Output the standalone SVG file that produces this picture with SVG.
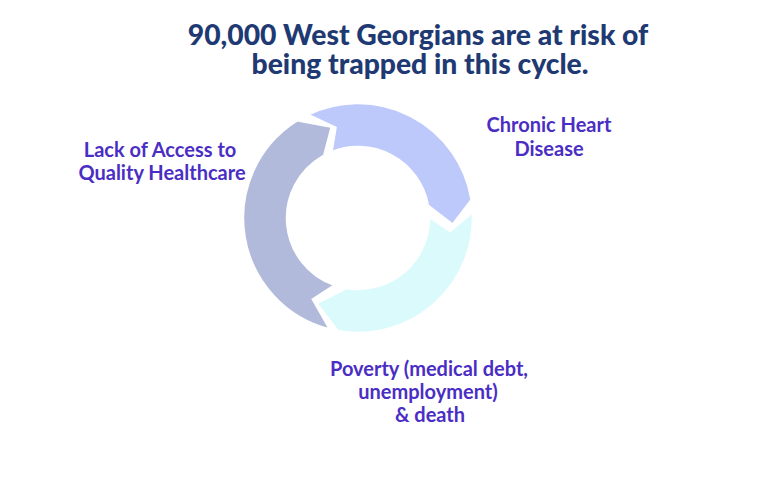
<svg xmlns="http://www.w3.org/2000/svg" width="758" height="481" viewBox="0 0 758 481">
<style>
.title{font-family:Lato,"Liberation Sans",sans-serif;font-weight:900;font-size:28.3px;fill:#1f3a73;text-anchor:middle}
.lbl{font-family:Lato,"Liberation Sans",sans-serif;font-weight:700;font-size:20px;fill:#4a2ec4;text-anchor:middle}
.arr{stroke:#ffffff;stroke-width:2.5;stroke-linejoin:miter}
</style>
<rect width="758" height="481" fill="#ffffff"/>
<g id="title">
<text class="title" x="418" y="45">90,000 West Georgians are at risk of</text>
<text class="title" x="420" y="73.5">being trapped in this cycle.</text>
</g>
<g id="connectors">
<path id="arrow-gray" class="arr" fill="#b2badb" d="M330.18,329.58 A115,115 0 0 1 295.37,121.55 L294.28,119.88 L331.81,126.68 L323.5,158.24 L322.5,156.51 A71,71 0 0 0 334.88,285.13 L312.91,299.34 Z"/>
<path id="arrow-cyan" class="arr" fill="#dbfafc" d="M472.84,211.98 A115,115 0 0 1 340.01,331.58 L339.70,333.56 L316.35,303.39 L349.59,286.49 L349.35,288.47 A71,71 0 0 0 428.99,216.76 L450.10,230.94 Z"/>
<path id="arrow-blue" class="arr" fill="#bdc9fb" d="M307.59,114.64 A115,115 0 0 1 471.25,198.03 L473.22,197.68 L452.77,224.63 L425.49,203.65 L427.45,203.24 A71,71 0 0 0 331.40,152.17 L335.50,127.76 Z"/>
</g>
<g id="node-heart">
<text class="lbl" x="549" y="132">Chronic Heart</text>
<text class="lbl" x="549" y="156">Disease</text>
</g>
<g id="node-poverty">
<text class="lbl" x="429" y="376">Poverty (medical debt,</text>
<text class="lbl" x="428" y="399">unemployment)</text>
<text class="lbl" x="430" y="422">&amp; death</text>
</g>
<g id="node-access">
<text class="lbl" x="160" y="157">Lack of Access to</text>
<text class="lbl" x="162" y="180">Quality Healthcare</text>
</g>
</svg>
